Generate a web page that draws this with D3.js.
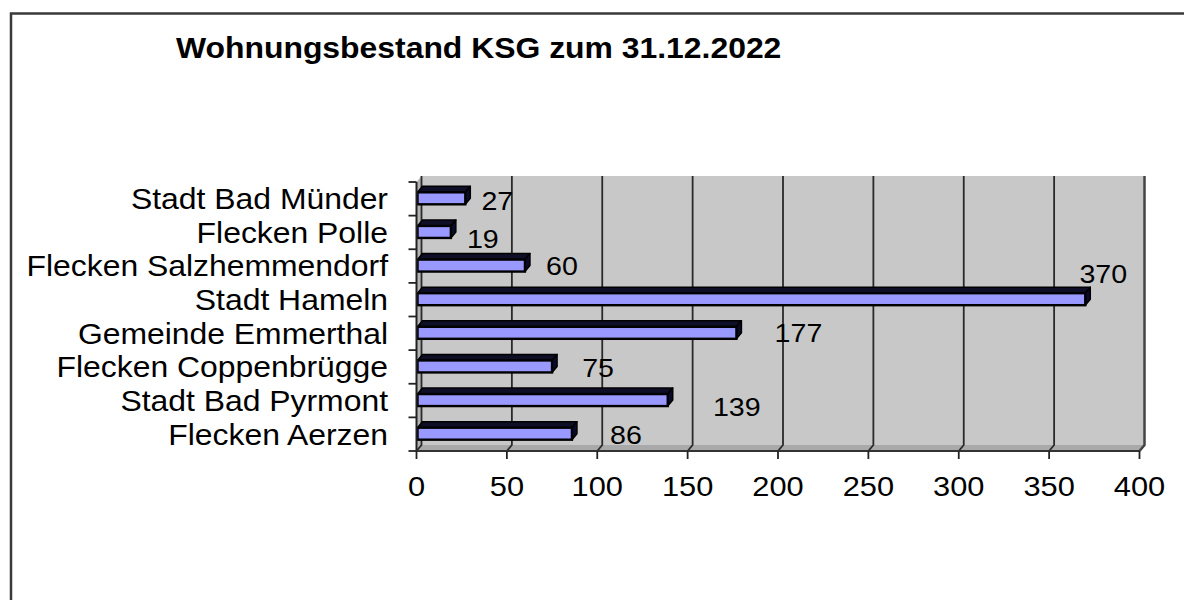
<!DOCTYPE html>
<html>
<head>
<meta charset="utf-8">
<script src="https://cdn.jsdelivr.net/npm/d3@7"></script>
<style>
  html, body { margin: 0; padding: 0; background: #fff; }
  svg { display: block; }
  text { font-family: "Liberation Sans", Arial, sans-serif; fill: #000; }
</style>
</head>
<body>
<svg id="chart" width="1184" height="600"></svg>
<script>
// Housing stock per municipality (top to bottom)
const categories = [
  "Stadt Bad Münder",
  "Flecken Polle",
  "Flecken Salzhemmendorf",
  "Stadt Hameln",
  "Gemeinde Emmerthal",
  "Flecken Coppenbrügge",
  "Stadt Bad Pyrmont",
  "Flecken Aerzen"
];
const values = [27, 19, 60, 370, 177, 75, 139, 86];
const xTicks = [0, 50, 100, 150, 200, 250, 300, 350, 400];
const title = "Wohnungsbestand KSG zum 31.12.2022";

// Value-label nudges (centre offset from bar end, offset from band centre)
const labelDx = [32, 32, 37, 18, 62, 46, 69, 54];
const labelDy = [1.5, 6, 0, -26, -1, 1, 6, 1];

const svg = d3.select("#chart");
const stretch = 1.1;           // text is drawn slightly wide
const depthX = 5, depthY = -6; // 3D depth offset of the back wall

// outer frame
svg.append("rect")
  .attr("x", 11).attr("y", 13.5)
  .attr("width", 1250).attr("height", 700)
  .attr("fill", "#fff").attr("stroke", "#3a3a3a").attr("stroke-width", 2.5);

// title
svg.append("text")
  .attr("transform", `translate(176,58) scale(${stretch},1)`)
  .attr("font-size", 29).attr("font-weight", "bold")
  .text(title);

const x = d3.scaleLinear().domain([0, 400]).range([416.5, 1139.5]);
const y = d3.scaleBand().domain(categories).range([182, 451]).padding(0);

const plotTop = y.range()[0], plotBottom = y.range()[1];
const x0 = x(0), x1 = x(400);

const plot = svg.append("g");

// back wall
plot.append("rect")
  .attr("x", x0 + depthX).attr("y", plotTop + depthY)
  .attr("width", x1 - x0).attr("height", plotBottom - plotTop)
  .attr("fill", "#c8c8c8");

// floor
plot.append("polygon")
  .attr("points", [[x0, plotBottom], [x0 + depthX, plotBottom + depthY], [x1 + depthX, plotBottom + depthY], [x1, plotBottom]].join(" "))
  .attr("fill", "#a9a9a9");

// left side wall
plot.append("polygon")
  .attr("points", [[x0, plotTop], [x0 + depthX, plotTop + depthY], [x0 + depthX, plotBottom + depthY], [x0, plotBottom]].join(" "))
  .attr("fill", "#b5b5b5");

// gridlines on wall and floor
const grid = plot.append("g");
xTicks.forEach(t => {
  const gx = x(t);
  grid.append("path")
    .attr("d", `M${gx + depthX},${plotTop + depthY} L${gx + depthX},${plotBottom + depthY} L${gx},${plotBottom}`)
    .attr("fill", "none")
    .attr("stroke", t === 400 ? "#444" : "#2a2a2a")
    .attr("stroke-width", t === 400 ? 2.5 : 1.8);
});

// bars (3D: top face, end face, front face)
const bdx = 5, bdy = -6;
const faceH = 12;
const bars = plot.append("g");
categories.forEach((c, i) => {
  const cy = y(c) + y.bandwidth() / 2;
  const yT = cy - 6.5, yB = yT + faceH;
  const xa = x(0) + 1, xb = x(values[i]);
  bars.append("polygon")
    .attr("points", [[xa, yT], [xa + bdx, yT + bdy], [xb + bdx, yT + bdy], [xb, yT]].join(" "))
    .attr("fill", "#0e0e26").attr("stroke", "#000").attr("stroke-width", 1.5)
    .attr("stroke-linejoin", "round");
  bars.append("polygon")
    .attr("points", [[xb, yT], [xb + bdx, yT + bdy], [xb + bdx, yB + bdy], [xb, yB]].join(" "))
    .attr("fill", "#0a0a2a").attr("stroke", "#000").attr("stroke-width", 1.5)
    .attr("stroke-linejoin", "round");
  bars.append("rect")
    .attr("x", xa).attr("y", yT)
    .attr("width", xb - xa).attr("height", faceH)
    .attr("fill", "#9999ff").attr("stroke", "#000").attr("stroke-width", 2.4);
});

// value labels
categories.forEach((c, i) => {
  const cy = y(c) + y.bandwidth() / 2 + labelDy[i];
  const lx = x(values[i]) + labelDx[i];
  svg.append("text")
    .attr("transform", `translate(${lx},${cy + 26 * 0.358}) scale(${stretch},1)`)
    .attr("font-size", 26).attr("text-anchor", "middle")
    .text(values[i]);
});

// category axis (left)
const yAxis = svg.append("g");
yAxis.append("line")
  .attr("x1", x0).attr("x2", x0).attr("y1", plotTop).attr("y2", plotBottom)
  .attr("stroke", "#222").attr("stroke-width", 2);
const bounds = categories.map(c => y(c)).concat([plotBottom]);
bounds.forEach(b => {
  yAxis.append("line")
    .attr("x1", x0 - 8).attr("x2", x0).attr("y1", b).attr("y2", b)
    .attr("stroke", "#222").attr("stroke-width", 1.8);
});
categories.forEach(c => {
  const cy = y(c) + y.bandwidth() / 2;
  yAxis.append("text")
    .attr("transform", `translate(388,${cy + 29 * 0.358}) scale(${stretch},1)`)
    .attr("font-size", 29).attr("text-anchor", "end")
    .text(c);
});

// value axis (bottom)
const xAxis = svg.append("g");
xAxis.append("line")
  .attr("x1", x0).attr("x2", x1).attr("y1", plotBottom).attr("y2", plotBottom)
  .attr("stroke", "#333").attr("stroke-width", 2);
xTicks.forEach(t => {
  xAxis.append("line")
    .attr("x1", x(t)).attr("x2", x(t)).attr("y1", plotBottom).attr("y2", plotBottom + 8)
    .attr("stroke", "#222").attr("stroke-width", 1.8);
  xAxis.append("text")
    .attr("transform", `translate(${x(t)},496) scale(${stretch},1)`)
    .attr("font-size", 28).attr("text-anchor", "middle")
    .text(t);
});
</script>
</body>
</html>
